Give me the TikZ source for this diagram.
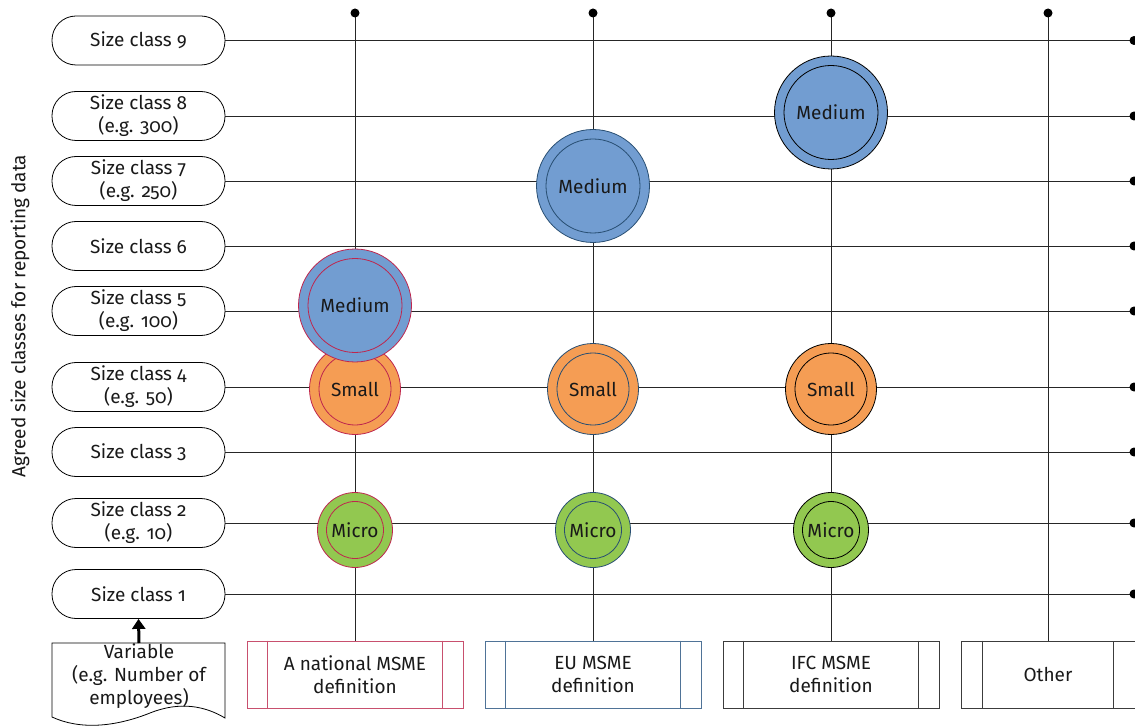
\documentclass[tikz,border=0pt]{standalone}
\usepackage{fontspec}
\setmainfont{Fira Sans}[Numbers=OldStyle]
\usetikzlibrary{arrows.meta}
\definecolor{medfill}{RGB}{114,157,209}
\definecolor{smallfill}{RGB}{245,157,84}
\definecolor{microfill}{RGB}{146,200,80}
\definecolor{natline}{RGB}{190,38,78}
\definecolor{euline}{RGB}{40,78,114}
\definecolor{natbox}{RGB}{200,80,110}
\definecolor{eubox}{RGB}{79,115,151}
\definecolor{darkbox}{RGB}{60,60,60}
\begin{document}
\begin{tikzpicture}[x=1pt,y=-1pt,
  every node/.style={font=\fontsize{19}{23}\selectfont, text=black!90},
  pill/.style={draw, line width=0.8pt, rounded corners=24pt, minimum width=173pt, minimum height=49pt, align=center, inner sep=0pt},
  conn/.style={line width=0.9pt, black!85},
  dot/.style={fill=black, circle, inner sep=0pt, minimum size=9pt},
  medc/.style={circle, draw, line width=0.8pt, fill=medfill, minimum size=113pt, inner sep=0pt},
  smallc/.style={circle, draw, line width=0.8pt, fill=smallfill, minimum size=91pt, inner sep=0pt},
  microc/.style={circle, draw, line width=0.8pt, fill=microfill, minimum size=75pt, inner sep=0pt},
  defbox/.style={draw, line width=0.8pt, minimum width=216pt, minimum height=67pt, align=center, inner sep=0pt},
]
\useasboundingbox (0,0) rectangle (1135,727);

% size class pills
\node[pill] (s9) at (138.5,40.5) {Size class 9};
\node[pill] (s8) at (138.5,116) {Size class 8\\(e.g. 300)};
\node[pill] (s7) at (138.5,181) {Size class 7\\(e.g. 250)};
\node[pill] (s6) at (138.5,246) {Size class 6};
\node[pill] (s5) at (138.5,311) {Size class 5\\(e.g. 100)};
\node[pill] (s4) at (138.5,387) {Size class 4\\(e.g. 50)};
\node[pill] (s3) at (138.5,452) {Size class 3};
\node[pill] (s2) at (138.5,523) {Size class 2\\(e.g. 10)};
\node[pill] (s1) at (138.5,594) {Size class 1};

% right end coordinates
\foreach \n/\y in {9/40.5,8/116,7/181,6/246,5/311,4/387,3/452,2/523,1/594}{
  \coordinate (r\n) at (1134,\y);
  \draw[conn] (s\n.east) -- (r\n);
  \node[dot] at (r\n) {};
}

% rotated label
\node[rotate=90] (lab) at (20,316) {Agreed size classes for reporting data};

% definition boxes
\node[defbox, draw=natbox] (b1) at (355,674.5) {A national MSME\\definition};
\node[defbox, draw=eubox] (b2) at (593,674.5) {EU MSME\\definition};
\node[defbox, draw=darkbox] (b3) at (831,674.5) {IFC MSME\\definition};
\node[defbox, draw=darkbox, minimum width=184pt] (b4) at (1053,674.5) {};
\node (b4t) at (1048,674.5) {Other};
\draw[natbox, line width=0.8pt] ([xshift=21pt]b1.north west) -- ([xshift=21pt]b1.south west)
  ([xshift=-21pt]b1.north east) -- ([xshift=-21pt]b1.south east);
\draw[eubox, line width=0.8pt] ([xshift=21pt]b2.north west) -- ([xshift=21pt]b2.south west)
  ([xshift=-21pt]b2.north east) -- ([xshift=-21pt]b2.south east);
\draw[darkbox, line width=0.8pt] ([xshift=21pt]b3.north west) -- ([xshift=21pt]b3.south west)
  ([xshift=-21pt]b3.north east) -- ([xshift=-21pt]b3.south east);
\draw[darkbox, line width=0.8pt] ([xshift=22pt]b4.north west) -- ([xshift=22pt]b4.south west)
  (1113,641) -- (1113,708);

% vertical lines with top dots
\foreach \n/\x in {1/355,2/593,3/831,4/1048}{
  \coordinate (t\n) at (\x,13);
  \draw[conn] (t\n) -- (b\n.north -| t\n);
  \node[dot] at (t\n) {};
}

% variable document
\draw[line width=0.8pt] (52,643) -- (225,643) -- (225,718)
  .. controls (205,706) and (180,701) .. (150,713)
  .. controls (115,727) and (80,730) .. (52,717) -- cycle;
\node[align=center] (var) at (139,676) {Variable\\(e.g. Number of\\employees)};
\coordinate (vt) at (139,643);
\draw[line width=3pt, -{Triangle[width=13pt,length=10pt]}] (vt) -- (s1.south);

% circles: national
\node[microc, draw=natline] (n1) at (355,530) {};
\draw[natline, line width=0.8pt] (n1.center) circle[radius=28.5];
\node at (n1) {Micro};
\node[smallc, draw=natline] (n2) at (355,389) {};
\draw[natline, line width=0.8pt] (n2.center) circle[radius=36];
\node at (n2) {Small};
\node[medc, draw=natline] (n3) at (355,305.5) {};
\draw[natline, line width=0.8pt] (n3.center) circle[radius=47];
\node at (n3) {Medium};

% circles: EU
\node[microc, draw=euline] (e1) at (593,530) {};
\draw[euline, line width=0.8pt] (e1.center) circle[radius=28.5];
\node at (e1) {Micro};
\node[smallc, draw=euline] (e2) at (593,389) {};
\draw[euline, line width=0.8pt] (e2.center) circle[radius=36];
\node at (e2) {Small};
\node[medc, draw=euline] (e3) at (593,186) {};
\draw[euline, line width=0.8pt] (e3.center) circle[radius=47];
\node at (e3) {Medium};

% circles: IFC
\node[microc, draw=black] (i1) at (831,530) {};
\draw[black, line width=0.8pt] (i1.center) circle[radius=28.5];
\node at (i1) {Micro};
\node[smallc, draw=black] (i2) at (831,389) {};
\draw[black, line width=0.8pt] (i2.center) circle[radius=36];
\node at (i2) {Small};
\node[medc, draw=black] (i3) at (831,112.5) {};
\draw[black, line width=0.8pt] (i3.center) circle[radius=47];
\node at (i3) {Medium};
\end{tikzpicture}
\end{document}
